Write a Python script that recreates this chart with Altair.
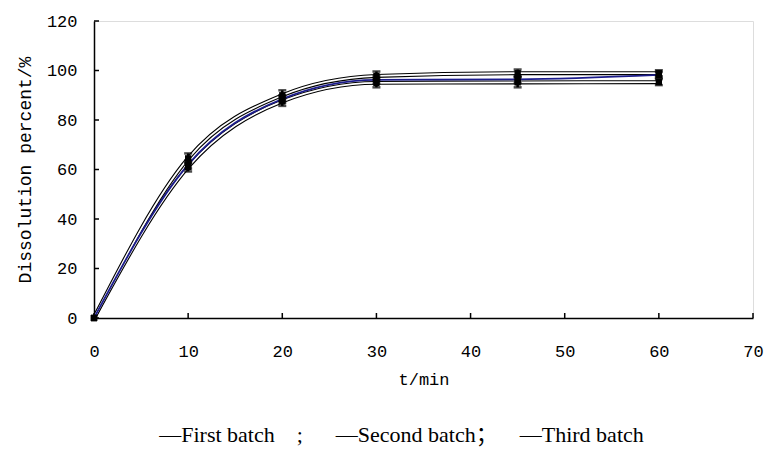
import altair as alt
import pandas as pd

# ---- data ----
times = [0, 10, 20, 30, 45, 60]
series_names = ["First batch", "Second batch", "Third batch"]
first_batch = [0, 64.5, 90.0, 97.8, 98.9, 98.9]
second_batch = [0, 62.0, 88.5, 96.2, 96.4, 98.2]
third_batch = [0, 61.0, 87.5, 95.0, 95.2, 95.3]
first_sd = [0, 2.0, 2.0, 1.8, 1.5, 1.2]
second_sd = [0, 1.6, 1.5, 1.5, 1.5, 1.2]
third_sd = [0, 1.8, 1.8, 1.8, 2.0, 1.2]
x_ticks = [0, 10, 20, 30, 40, 50, 60, 70]
y_ticks = [0, 20, 40, 60, 80, 100, 120]
NB = "\u00a0"
legend_text = ("\u2014First batch" + NB * 4 + ";" + NB * 6 + "\u2014Second batch\uff1b"
               + NB * 4 + "\u2014Third batch")

rows = []
for name, vals, sds in zip(series_names, [first_batch, second_batch, third_batch],
                           [first_sd, second_sd, third_sd]):
    for t, v, s in zip(times, vals, sds):
        rows.append({"time": t, "value": v, "series": name, "lo": v - s, "hi": v + s})
df = pd.DataFrame(rows)
xt = pd.DataFrame({"v": x_ticks})
yt = pd.DataFrame({"v": y_ticks})

W, H = 659, 297
MONO = "Liberation Mono"

xscale = alt.Scale(domain=[0, 70], nice=False, zero=False)
yscale = alt.Scale(domain=[0, 120], nice=False)

xaxis = alt.Axis(values=x_ticks, ticks=False, grid=False, title="t/min",
                 labelPadding=25, titlePadding=12, labelFont=MONO, labelFontSize=17,
                 titleFont=MONO, titleFontSize=17, titleFontWeight="normal",
                 labelColor="black", titleColor="black", domainColor="black",
                 domainWidth=1.5, format="d", labelFlush=False)
yaxis = alt.Axis(values=y_ticks, ticks=False, grid=False, title="Dissolution percent/%",
                 labelPadding=17, titlePadding=12, labelFont=MONO, labelFontSize=17,
                 titleFont=MONO, titleFontSize=18, titleFontWeight="normal",
                 labelColor="black", titleColor="black", domainColor="black",
                 domainWidth=1.5, format="d", labelFlush=False)

X = alt.X("time:Q", scale=xscale, axis=xaxis)
Y = alt.Y("value:Q", scale=yscale, axis=yaxis)

base = alt.Chart(df)
outlined = base.transform_filter(alt.datum.series != "Second batch")
blue = base.transform_filter(alt.datum.series == "Second batch")

outer = outlined.mark_line(interpolate="monotone", color="black", strokeWidth=4.0).encode(
    x=X, y=Y, detail="series:N")
inner = outlined.mark_line(interpolate="monotone", color="white", strokeWidth=1.8).encode(
    x=X, y=Y, detail="series:N")
blue_line = blue.mark_line(interpolate="monotone", color="#1c1c8c", strokeWidth=1.8).encode(
    x=X, y=Y)

errbase = base.transform_filter(alt.datum.time > 0)
err = errbase.mark_rule(color="black", strokeWidth=2.5).encode(
    x=X, y=alt.Y("lo:Q", scale=yscale, axis=yaxis), y2="hi:Q")
cap_lo = errbase.mark_tick(color="black", orient="horizontal", size=8, thickness=2.5).encode(
    x=X, y=alt.Y("lo:Q", scale=yscale, axis=yaxis))
cap_hi = errbase.mark_tick(color="black", orient="horizontal", size=8, thickness=2.5).encode(
    x=X, y=alt.Y("hi:Q", scale=yscale, axis=yaxis))
pts = base.mark_square(color="black", size=40, opacity=1).encode(x=X, y=Y)

xtick = alt.Chart(xt).mark_rule(color="black", strokeWidth=1.5).encode(
    x=alt.X("v:Q", scale=xscale, axis=xaxis), y=alt.value(H), y2=alt.value(H - 5))
ytick = alt.Chart(yt).mark_rule(color="black", strokeWidth=1.5).encode(
    y=alt.Y("v:Q", scale=yscale, axis=yaxis), x=alt.value(0), x2=alt.value(5))

chart = alt.layer(outer, inner, blue_line, err, cap_lo, cap_hi, pts, xtick, ytick).properties(
    width=W, height=H,
    autosize=alt.AutoSizeParams(type="none"),
    padding={"left": 94, "top": 21, "right": 12, "bottom": 137},
    title=alt.TitleParams(text=legend_text, orient="bottom", anchor="middle", dx=-22,
                          offset=38, font="Liberation Serif, Noto Sans CJK SC",
                          fontSize=22, fontWeight="normal", color="black"),
).configure_view(stroke=None).configure(background="white")

chart.save("out.html", embed_options={"renderer": "svg", "actions": False})
